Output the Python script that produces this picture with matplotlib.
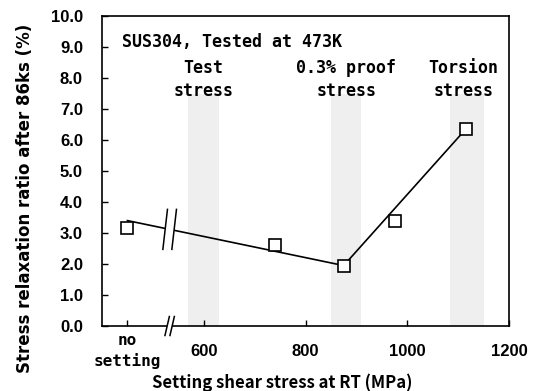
import numpy as np
import matplotlib
matplotlib.use('Agg')
import matplotlib.pyplot as plt
from matplotlib.transforms import IdentityTransform
from matplotlib.patches import Polygon

# measured points (open squares)
stress = [450, 740, 875, 975, 1115]
relax = [3.15, 2.62, 1.95, 3.40, 6.35]

# trend line drawn through the data
trend_x = [450, 875, 1115]
trend_y = [3.40, 1.95, 6.35]

# shaded stress ranges
bands = [(570, 630), (850, 910), (1085, 1150)]
band_top = 7.5
band_labels = ['Test\nstress', '0.3% proof\nstress', 'Torsion\nstress']
band_label_x = [600, 880, 1110]

xticks = [450, 600, 800, 1000, 1200]
xticklabels = ['no\nsetting', '600', '800', '1000', '1200']
yticks = np.arange(0, 11, 1)
x_break = 533

mono = ['DejaVu Sans Mono', 'DejaVu Sans']
gothic = ['Noto Sans CJK JP', 'DejaVu Sans']
num_font = 'Liberation Sans'

fig = plt.figure(figsize=(5.39, 3.91), dpi=100)
ax = fig.add_axes([102 / 539, 1 - 326 / 391, 407 / 539, 310 / 391])
ax.set_xlim(400, 1200)
ax.set_ylim(0, 10)

for (a, b) in bands:
    ax.fill_between([a, b], 0, band_top, color='#efefef', lw=0, zorder=0)

ax.plot(trend_x, trend_y, color='k', lw=1.2, zorder=2)
ax.plot(stress, relax, ls='none', marker='s', ms=8, mfc='white',
        mec='k', mew=1.2, zorder=3)

for lx, lab in zip(band_label_x, band_labels):
    ax.text(lx, 8.62, lab, ha='center', va='top', fontsize=12,
            family=mono, weight='bold', linespacing=1.4)
ax.text(439, 9.15, 'SUS304, Tested at 473K', ha='left', va='center',
        fontsize=12, family=mono, weight='bold')

ax.set_xticks(xticks)
ax.set_xticklabels(xticklabels)
ax.set_yticks(yticks)
ax.set_yticklabels(['%.1f' % v for v in yticks])
ax.tick_params(direction='in', length=4, width=1, color='k')
ax.tick_params(axis='x', pad=18)
ax.tick_params(axis='y', pad=13.7)
for lab in ax.get_yticklabels():
    lab.set_family(num_font)
    lab.set_weight('bold')
    lab.set_fontsize(12)
for i, lab in enumerate(ax.get_xticklabels()):
    lab.set_va('center')
    if i == 0:
        lab.set_family(mono)
        lab.set_fontsize(11.5)
        lab.set_weight('bold')
        lab.set_linespacing(1.4)
    else:
        lab.set_family(num_font)
        lab.set_weight('bold')
        lab.set_fontsize(12)
for s in ax.spines.values():
    s.set_linewidth(1.2)

ax.set_xlabel('Setting shear stress at RT (MPa)', family=gothic, fontsize=12,
              weight='bold')
ax.xaxis.set_label_coords((282 - 102) / 407, -(383 - 326) / 310)
ax.xaxis.label.set_va('center')
ax.set_ylabel('Stress relaxation ratio after 86ks (%)', family='DejaVu Sans',
              fontsize=12, weight='bold')
ax.yaxis.set_label_coords(-(102 - 25) / 407, (326 - 198) / 310)
ax.yaxis.label.set_va('center')


def draw_break(xd, yd, half_h, gap, slant):
    # two parallel slashes with a white gap between them (display pixels)
    px, py = ax.transData.transform((xd, yd))
    poly = [(px - gap / 2 - slant, py - half_h), (px + gap / 2 - slant, py - half_h),
            (px + gap / 2 + slant, py + half_h), (px - gap / 2 + slant, py + half_h)]
    fig.add_artist(Polygon(poly, closed=True, transform=IdentityTransform(),
                           fc='white', ec='none', zorder=5))
    for off in (-gap / 2, gap / 2):
        fig.add_artist(plt.Line2D([px + off - slant, px + off + slant],
                                  [py - half_h, py + half_h], color='k', lw=1.1,
                                  transform=IdentityTransform(), zorder=6))


draw_break(x_break, np.interp(x_break, trend_x, trend_y), 20, 9, 2.3)
draw_break(x_break, 0, 9.5, 5, 2.2)

fig.savefig('out.png', dpi=100)
